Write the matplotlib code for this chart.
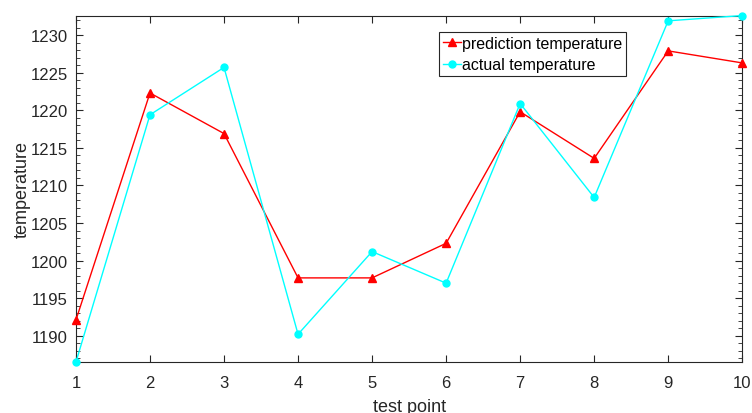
import matplotlib.pyplot as plt
from matplotlib.ticker import MultipleLocator

plt.rcParams['font.family'] = ['Liberation Sans', 'DejaVu Sans']

# --- data ---
test_points = [1, 2, 3, 4, 5, 6, 7, 8, 9, 10]
prediction_temp = [1192.1, 1222.3, 1216.9, 1197.7, 1197.7, 1202.3, 1219.8, 1213.6, 1227.9, 1226.3]
actual_temp = [1186.5, 1219.4, 1225.7, 1190.2, 1201.2, 1197.0, 1220.9, 1208.4, 1231.9, 1232.6]
y_ticks = [1190, 1195, 1200, 1205, 1210, 1215, 1220, 1225, 1230]

axis_color = '#262626'

fig = plt.figure(figsize=(7.52, 4.14), dpi=100)
ax = fig.add_axes([0.101, 0.123, 0.886, 0.837])

ax.plot(test_points, prediction_temp, color='red', marker='^', markersize=6,
        linewidth=1, label='prediction temperature', clip_on=False, zorder=3)
ax.plot(test_points, actual_temp, color='cyan', marker='o', markersize=5,
        linewidth=1, label='actual temperature', clip_on=False, zorder=3)

ax.set_xlim(min(test_points), max(test_points))
ax.set_ylim(min(actual_temp), max(actual_temp))
ax.set_xticks(test_points)
ax.set_yticks(y_ticks)
ax.yaxis.set_minor_locator(MultipleLocator(1))

ax.tick_params(which='both', direction='in', top=True, right=True,
               colors=axis_color, labelsize=12)
ax.tick_params(which='major', length=5)
ax.tick_params(which='minor', length=3)
ax.tick_params(axis='x', pad=9)
ax.tick_params(axis='y', pad=6)
for sp in ax.spines.values():
    sp.set_color(axis_color)
    sp.set_linewidth(0.8)

ax.set_xlabel('test point', fontsize=13, color=axis_color, labelpad=6)
ax.set_ylabel('temperature', fontsize=13, color=axis_color, labelpad=0)

leg = ax.legend(loc='upper left', bbox_to_anchor=(0.545, 0.953), borderaxespad=0,
                fontsize=11.5, fancybox=False, framealpha=1, edgecolor=axis_color,
                handlelength=1.1, handletextpad=0.1, borderpad=0.25, labelspacing=0.4)
leg.get_frame().set_linewidth(0.8)

fig.savefig('out.png', dpi=100)
